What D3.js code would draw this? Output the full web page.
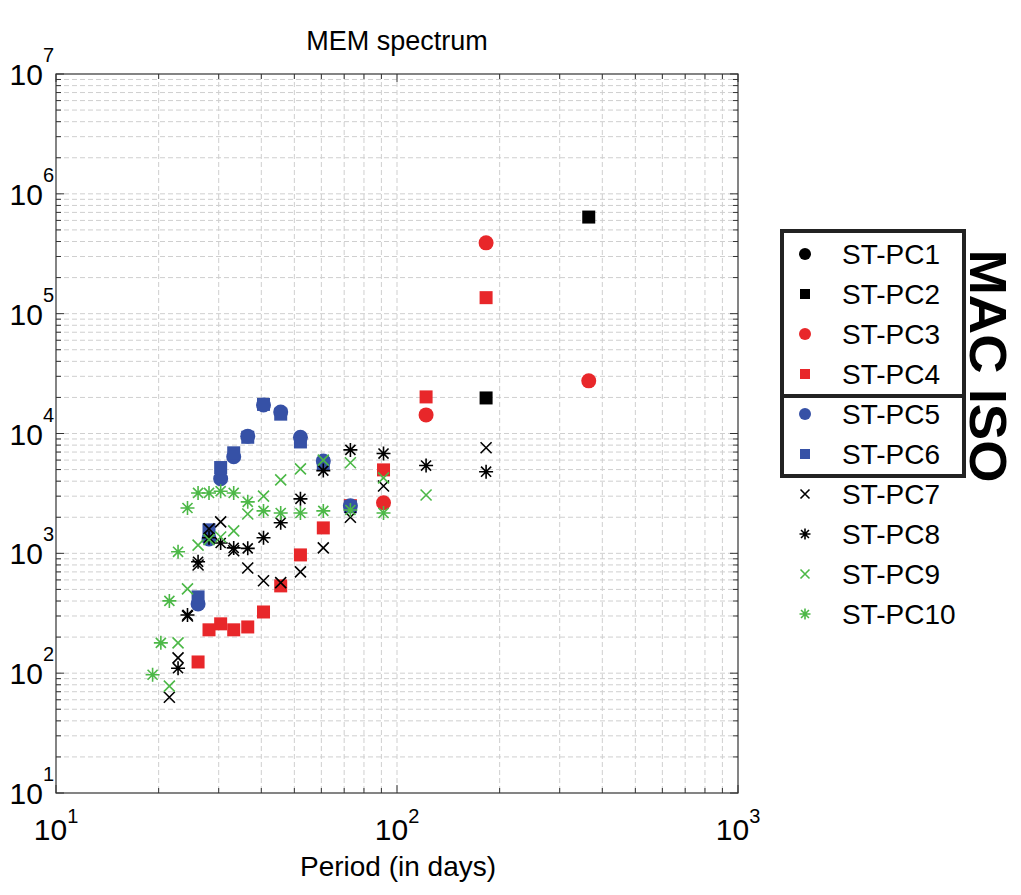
<!DOCTYPE html>
<html>
<head>
<meta charset="utf-8">
<script src="https://cdn.jsdelivr.net/npm/d3@7"></script>
<style>
  body { margin: 0; background: #fff; }
  text { font-family: "Liberation Sans", Arial, sans-serif; }
</style>
</head>
<body>
<svg id="main" width="1021" height="895"></svg>
<script>
// periods in days (365/k)
var periods = [365, 182.5, 121.7, 91.3, 73, 60.8, 52.1, 45.6, 40.6, 36.5, 33.2, 30.4, 28.1, 26.1, 24.3, 22.8, 21.5, 20.3, 19.2];

// MEM power per period, null = no point
var pc1  = [null, null, null, null, null, null, null, null, null, null, null, null, null, null, null, null, null, null, null];
var pc2  = [6.4e5, 1.98e4, null, null, null, null, null, null, null, null, null, null, null, null, null, null, null, null, null];
var pc3  = [2.75e4, 3.9e5, 1.43e4, 2.64e3, null, null, null, null, null, null, null, null, null, null, null, null, null, null, null];
var pc4  = [null, 1.36e5, 2.02e4, 4.97e3, 2.5e3, 1.63e3, 970, 535, 324, 243, 230, 258, 230, 124, null, null, null, null, null];
var pc5  = [null, null, null, null, 2.49e3, 5.9e3, 9.3e3, 1.51e4, 1.73e4, 9.5e3, 6.4e3, 4.2e3, 1.32e3, 378, null, null, null, null, null];
var pc6  = [null, null, null, null, 2.45e3, 5.6e3, 8.5e3, 1.45e4, 1.75e4, 9.3e3, 6.9e3, 5.2e3, 1.57e3, 433, null, null, null, null, null];
var pc7  = [null, 7.6e3, null, 3.65e3, 2.0e3, 1.11e3, 700, 570, 590, 755, 1.05e3, 1.83e3, 1.6e3, 800, 300, 134, 63, null, null];
var pc8  = [null, 4.8e3, 5.4e3, 6.8e3, 7.3e3, 4.9e3, 2.85e3, 1.8e3, 1.35e3, 1.1e3, 1.11e3, 1.22e3, 1.35e3, 850, 306, 110, null, null, null];
var pc9  = [null, null, 3.07e3, 4.26e3, 5.7e3, 6.0e3, 5.07e3, 4.1e3, 3.0e3, 2.13e3, 1.54e3, 1.37e3, 1.3e3, 1.17e3, 505, 179, 78, null, null];
var pc10 = [null, null, null, 2.17e3, 2.3e3, 2.26e3, 2.17e3, 2.17e3, 2.26e3, 2.69e3, 3.19e3, 3.3e3, 3.19e3, 3.19e3, 2.39e3, 1.03e3, 401, 179, 97];

var names = ["ST-PC1", "ST-PC2", "ST-PC3", "ST-PC4", "ST-PC5", "ST-PC6", "ST-PC7", "ST-PC8", "ST-PC9", "ST-PC10"];
var shapes = ["circle", "square", "circle", "square", "circle", "square", "x", "star", "x", "star"];
var colours = ["#000000", "#000000", "#e8272a", "#e8272a", "#3651a6", "#3651a6", "#000000", "#000000", "#4cb847", "#4cb847"];
var seriesVals = [pc1, pc2, pc3, pc4, pc5, pc6, pc7, pc8, pc9, pc10];

var xTicks = [1, 2, 3];
var yTicks = [1, 2, 3, 4, 5, 6, 7];

var svg = d3.select("#main");
var pLeft = 56, pRight = 738, pTop = 74, pBottom = 793;

var x = d3.scaleLog().domain([10, 1000]).range([pLeft, pRight]);
var y = d3.scaleLog().domain([10, 1e7]).range([pBottom, pTop]);

// minor/major values
function logVals(lo, hi) {
    var out = [];
    for (var e = lo; e < hi; e++) {
        for (var m = 1; m < 10; m++) out.push(m * Math.pow(10, e));
    }
    out.push(Math.pow(10, hi));
    return out;
}
var xAll = logVals(1, 3);
var yAll = logVals(1, 7);

// grid
var grid = svg.append("g");
grid.selectAll(".gx").data(xAll.slice(1, -1)).enter().append("line")
    .attr("x1", d => x(d)).attr("x2", d => x(d))
    .attr("y1", pTop).attr("y2", pBottom)
    .attr("stroke", "#cfcfcf").attr("stroke-width", 1).attr("stroke-dasharray", "5,3");
grid.selectAll(".gy").data(yAll.slice(1, -1)).enter().append("line")
    .attr("y1", d => y(d)).attr("y2", d => y(d))
    .attr("x1", pLeft).attr("x2", pRight)
    .attr("stroke", "#cfcfcf").attr("stroke-width", 1).attr("stroke-dasharray", "5,3");

// ticks on all four sides
function isMajor(v) { return Math.abs(Math.log10(v) - Math.round(Math.log10(v))) < 1e-9; }
var ticks = svg.append("g").attr("stroke", "#333").attr("stroke-width", 1);
xAll.forEach(function(v) {
    var len = isMajor(v) ? 8 : 5;
    ticks.append("line").attr("x1", x(v)).attr("x2", x(v)).attr("y1", pBottom).attr("y2", pBottom - len);
    ticks.append("line").attr("x1", x(v)).attr("x2", x(v)).attr("y1", pTop).attr("y2", pTop + len);
});
yAll.forEach(function(v) {
    var len = isMajor(v) ? 8 : 5;
    ticks.append("line").attr("y1", y(v)).attr("y2", y(v)).attr("x1", pLeft).attr("x2", pLeft + len);
    ticks.append("line").attr("y1", y(v)).attr("y2", y(v)).attr("x1", pRight).attr("x2", pRight - len);
});

svg.append("rect").attr("x", pLeft).attr("y", pTop)
    .attr("width", pRight - pLeft).attr("height", pBottom - pTop)
    .attr("fill", "none").attr("stroke", "#333").attr("stroke-width", 1.2);

// tick labels
xTicks.forEach(function(e) {
    var t = svg.append("text").attr("x", x(Math.pow(10, e))).attr("y", 840)
        .attr("text-anchor", "middle").style("font-size", "30px").text("10");
    t.append("tspan").attr("dy", -17).style("font-size", "20px").text(e);
});
yTicks.forEach(function(e) {
    var t = svg.append("text").attr("x", 54).attr("y", y(Math.pow(10, e)) + 11)
        .attr("text-anchor", "end").style("font-size", "30px").text("10");
    t.append("tspan").attr("dy", -23).style("font-size", "20px").text(e);
});

svg.append("text").attr("x", 397).attr("y", 50).attr("text-anchor", "middle")
    .style("font-size", "27px").text("MEM spectrum");
svg.append("text").attr("x", 398).attr("y", 876).attr("text-anchor", "middle")
    .style("font-size", "28px").text("Period (in days)");

// markers
function drawMarker(g, shape, colour, cx, cy, s) {
    if (shape == "circle") {
        g.append("circle").attr("cx", cx).attr("cy", cy).attr("r", s / 2).attr("fill", colour);
    } else if (shape == "square") {
        g.append("rect").attr("x", cx - s / 2).attr("y", cy - s / 2)
            .attr("width", s).attr("height", s).attr("fill", colour);
    } else if (shape == "x") {
        var h = s / 2;
        g.append("path")
            .attr("d", "M" + (cx - h) + "," + (cy - h) + "L" + (cx + h) + "," + (cy + h) +
                       "M" + (cx - h) + "," + (cy + h) + "L" + (cx + h) + "," + (cy - h))
            .attr("stroke", colour).attr("stroke-width", 1.6).attr("fill", "none");
    } else {
        var h = s / 2, d = h * 0.72;
        g.append("path")
            .attr("d", "M" + (cx - h) + "," + cy + "L" + (cx + h) + "," + cy +
                       "M" + cx + "," + (cy - h) + "L" + cx + "," + (cy + h) +
                       "M" + (cx - d) + "," + (cy - d) + "L" + (cx + d) + "," + (cy + d) +
                       "M" + (cx - d) + "," + (cy + d) + "L" + (cx + d) + "," + (cy - d))
            .attr("stroke", colour).attr("stroke-width", 1.6).attr("fill", "none");
    }
}

var markSize = { circle: 15, square: 13, x: 11, star: 14 };
var plot = svg.append("g");
seriesVals.forEach(function(vals, i) {
    var g = plot.append("g").attr("id", names[i]);
    vals.forEach(function(v, j) {
        if (v == null) return;
        drawMarker(g, shapes[i], colours[i], x(periods[j]), y(v), markSize[shapes[i]]);
    });
});

// legend
var leg = svg.append("g");
var legSize = { circle: 12, square: 10, x: 9, star: 11 };
names.forEach(function(n, i) {
    var ly = 254 + i * 40;
    drawMarker(leg, shapes[i], colours[i], 805, ly, legSize[shapes[i]]);
    leg.append("text").attr("x", 842).attr("y", ly + 10).style("font-size", "28px").text(n);
});
leg.append("rect").attr("x", 782).attr("y", 231).attr("width", 182).attr("height", 245)
    .attr("fill", "none").attr("stroke", "#222").attr("stroke-width", 4);
leg.append("line").attr("x1", 782).attr("x2", 964).attr("y1", 396).attr("y2", 396)
    .attr("stroke", "#222").attr("stroke-width", 4);

svg.append("text").attr("transform", "translate(970,366) rotate(90)")
    .attr("text-anchor", "middle").style("font-size", "52px").style("font-weight", "bold")
    .attr("textLength", 233).attr("lengthAdjust", "spacingAndGlyphs")
    .text("MAC ISO");
</script>
</body>
</html>
